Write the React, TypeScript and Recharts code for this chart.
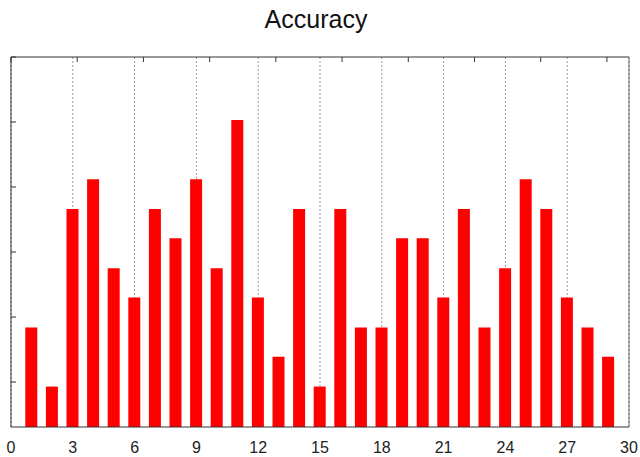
import { BarChart, Bar, XAxis, YAxis, CartesianGrid } from 'recharts'

const runs = [1, 2, 3, 4, 5, 6, 7, 8, 9, 10, 11, 12, 13, 14, 15, 16, 17, 18, 19, 20, 21, 22, 23, 24, 25, 26, 27, 28, 29]
const accuracy = [
  0.284, 0.193, 0.466, 0.512, 0.375, 0.33, 0.466, 0.421, 0.512, 0.375,
  0.603, 0.33, 0.239, 0.466, 0.193, 0.466, 0.284, 0.284, 0.421, 0.421,
  0.33, 0.466, 0.284, 0.375, 0.512, 0.466, 0.33, 0.284, 0.239,
]
const xTicks = [0, 3, 6, 9, 12, 15, 18, 21, 24, 27, 30]
const yTicks = [0.2, 0.3, 0.4, 0.5, 0.6, 0.7]

const data = runs.map((run, i) => ({ run, accuracy: accuracy[i] }))

const font = '"Liberation Sans", Arial, sans-serif'
const axisColor = '#333'
const noLabel = () => ''

export default function App() {
  return (
    <div style={{ position: 'absolute', left: 0, top: 0, width: 640, height: 457, background: '#fff' }}>
      <div
        style={{
          position: 'absolute',
          left: 0,
          top: 7,
          width: 632,
          textAlign: 'center',
          fontFamily: font,
          fontSize: 25,
          lineHeight: '25px',
          color: '#111',
        }}
      >
        Accuracy
      </div>
      <BarChart width={640} height={457} data={data} margin={{ top: 56, right: 10, left: 10, bottom: 0 }}>
        <CartesianGrid horizontal={false} stroke="#999" strokeDasharray="2 2" />
        <XAxis
          dataKey="run"
          type="number"
          domain={[0, 30]}
          ticks={xTicks}
          height={30}
          tickLine={false}
          tickSize={6}
          tickMargin={9}
          stroke={axisColor}
          tick={{ fill: '#222', fontSize: 16, fontFamily: font }}
        />
        <XAxis
          xAxisId="top"
          orientation="top"
          type="number"
          domain={[0, 30]}
          ticks={xTicks}
          height={1}
          tickFormatter={noLabel}
          tickSize={-5}
          stroke={axisColor}
        />
        <YAxis
          type="number"
          domain={[0.1308, 0.7]}
          ticks={yTicks}
          width={1}
          tickFormatter={noLabel}
          tickSize={-5}
          stroke={axisColor}
        />
        <YAxis
          yAxisId="right"
          orientation="right"
          type="number"
          domain={[0.1308, 0.7]}
          ticks={yTicks}
          width={1}
          tickFormatter={noLabel}
          tickSize={-5}
          stroke="#666"
        />
        <Bar dataKey="accuracy" fill="#ff0000" barSize={12} isAnimationActive={false} />
      </BarChart>
    </div>
  )
}
